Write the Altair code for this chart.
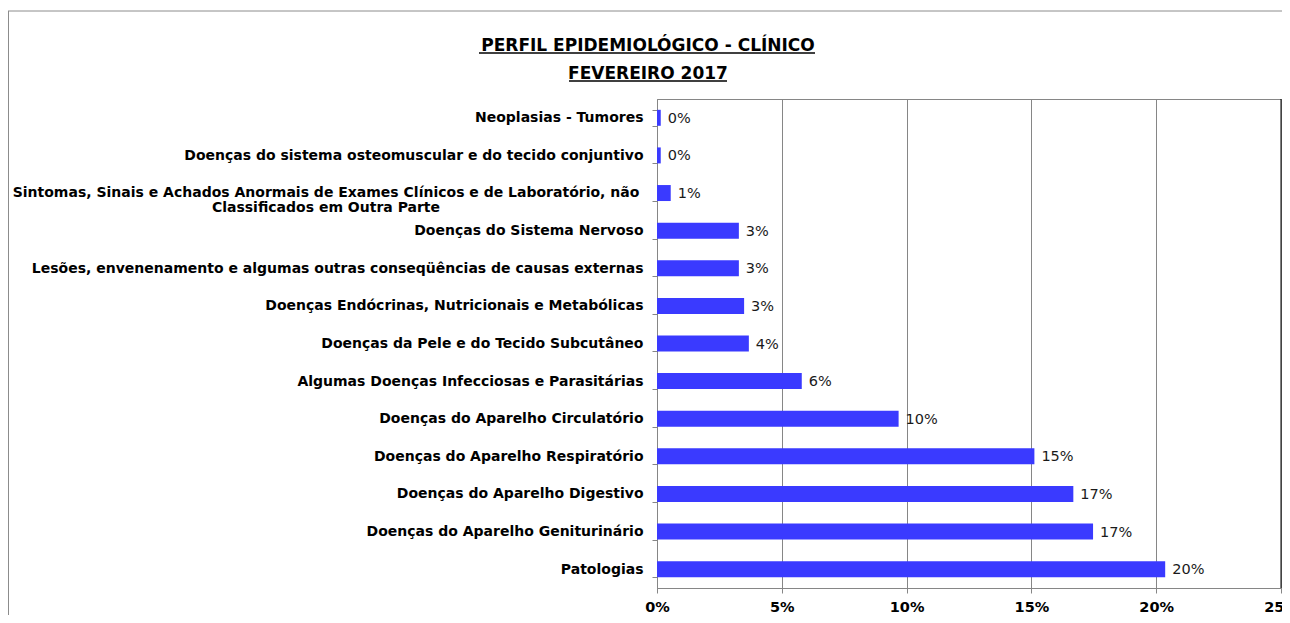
import altair as alt
import pandas as pd

categories = [
    "Neoplasias - Tumores",
    "Doenças do sistema osteomuscular e do tecido conjuntivo",
    "Sintomas, Sinais e Achados Anormais de Exames Clínicos e de Laboratório, não\nClassificados em Outra Parte",
    "Doenças do Sistema Nervoso",
    "Lesões, envenenamento e algumas outras conseqüências de causas externas",
    "Doenças Endócrinas, Nutricionais e Metabólicas",
    "Doenças da Pele e do Tecido Subcutâneo",
    "Algumas Doenças Infecciosas e Parasitárias",
    "Doenças do Aparelho Circulatório",
    "Doenças do Aparelho Respiratório",
    "Doenças do Aparelho Digestivo",
    "Doenças do Aparelho Geniturinário",
    "Patologias",
]
values = [0.15, 0.15, 0.55, 3.28, 3.28, 3.49, 3.68, 5.8, 9.68, 15.12, 16.68, 17.47, 20.36]
value_labels = ["0%", "0%", "1%", "3%", "3%", "3%", "4%", "6%", "10%", "15%", "17%", "17%", "20%"]
x_ticks = [0, 5, 10, 15, 20, 25]
title_lines = ["PERFIL EPIDEMIOLÓGICO - CLÍNICO ", "FEVEREIRO 2017"]

df = pd.DataFrame({"categoria": categories, "valor": values, "rotulo": value_labels})

GRAY = "#868686"
FONT = "DejaVu Sans"
W, H = 624, 489

x_enc = alt.X(
    "valor:Q",
    scale=alt.Scale(domain=[0, 25], nice=False),
    axis=alt.Axis(
        values=x_ticks, labelExpr="datum.value + '%'", grid=True, gridColor=GRAY,
        gridWidth=1, domainColor=GRAY, tickColor=GRAY, tickSize=5,
        labelFont=FONT, labelFontWeight="bold", labelFontSize=14.5, labelColor="black",
        labelBaseline="alphabetic", labelPadding=18,
        title=None, labelFlush=False, labelOverlap=False,
    ),
)
y_enc = alt.Y(
    "categoria:N",
    sort=None,
    scale=alt.Scale(domain=categories, paddingInner=0.575, paddingOuter=0.2875),
    axis=alt.Axis(
        title=None, tickBand="extent", domainColor=GRAY, tickColor=GRAY, tickSize=5,
        labelFont=FONT, labelFontWeight="bold", labelFontSize=14, labelColor="black",
        labelPadding=9, labelLimit=2000,
        labelExpr="indexof(datum.label, '\\n') >= 0 ? '' : datum.label",
    ),
)

base = alt.Chart(df).encode(x=x_enc, y=y_enc)

bars = base.mark_bar(color="#3a3aff")

value_text = base.mark_text(
    align="left", baseline="middle", dx=7, dy=1, font=FONT, fontSize=14.5, color="#1a1a1a"
).encode(text="rotulo:N")

multi_label = base.transform_filter("indexof(datum.categoria, '\\n') >= 0").mark_text(
    align="center", baseline="middle", lineBreak="\n", font=FONT, fontSize=14,
    fontWeight="bold", lineHeight=15, color="black",
).encode(x=alt.value(-331), text="categoria:N")

one = pd.DataFrame({"a": [0]})

right_border = alt.Chart(one).mark_rule(color="black", strokeWidth=1).encode(
    x=alt.value(W), y=alt.value(0), y2=alt.value(H)
)
frame_left = alt.Chart(one).mark_rule(color="#8c8c8c", strokeWidth=1).encode(
    x=alt.value(-648.5), y=alt.value(-88), y2=alt.value(540)
)
frame_top = alt.Chart(one).mark_rule(color="#8c8c8c", strokeWidth=1).encode(
    x=alt.value(-649), x2=alt.value(640), y=alt.value(-88)
)

t1 = alt.Chart(pd.DataFrame({"t": [title_lines[0]]})).mark_text(
    align="center", baseline="alphabetic", font=FONT, fontSize=17, fontWeight="bold", color="black"
).encode(text="t:N", x=alt.value(-9), y=alt.value(-48))
t2 = alt.Chart(pd.DataFrame({"t": [title_lines[1]]})).mark_text(
    align="center", baseline="alphabetic", font=FONT, fontSize=17, fontWeight="bold", color="black"
).encode(text="t:N", x=alt.value(-9), y=alt.value(-20))
u1 = alt.Chart(one).mark_rule(color="black", strokeWidth=1.3).encode(
    x=alt.value(-178), x2=alt.value(158), y=alt.value(-46)
)
u2 = alt.Chart(one).mark_rule(color="black", strokeWidth=1.3).encode(
    x=alt.value(-88), x2=alt.value(70), y=alt.value(-18)
)

chart = alt.layer(
    bars, value_text, multi_label, right_border, frame_left, frame_top, t1, t2, u1, u2
).properties(
    width=W,
    height=H,
    padding={"left": 649, "top": 91, "right": 1, "bottom": 27},
    autosize=alt.AutoSizeParams(type="none"),
).configure_view(stroke=GRAY, strokeWidth=1)

chart.save("out.html", embed_options={"renderer": "svg", "actions": False})
